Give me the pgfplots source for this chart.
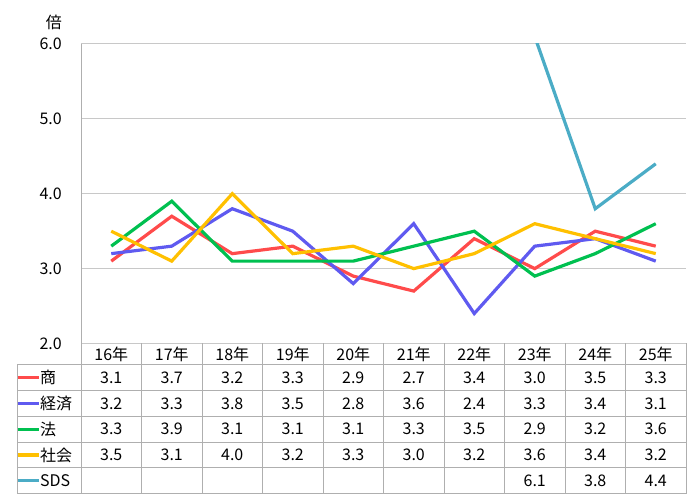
\documentclass[border=0pt]{standalone}
\usepackage{fontspec}
\setmainfont{Noto Sans CJK JP}
\usepackage{pgfplots}
\usepackage{pgfplotstable}
\pgfplotsset{compat=1.18}
\definecolor{cshou}{RGB}{255,75,75}
\definecolor{ckei}{RGB}{95,90,240}
\definecolor{chou}{RGB}{0,192,80}
\definecolor{csha}{RGB}{255,192,0}
\definecolor{csds}{RGB}{75,172,198}
\definecolor{gridc}{RGB}{200,200,200}
\definecolor{tabc}{RGB}{175,175,175}

\pgfplotstableread{
x shou keizai hou shakai sds
0 3.1 3.2 3.3 3.5 nan
1 3.7 3.3 3.9 3.1 nan
2 3.2 3.8 3.1 4.0 nan
3 3.3 3.5 3.1 3.2 nan
4 2.9 2.8 3.1 3.3 nan
5 2.7 3.6 3.3 3.0 nan
6 3.4 2.4 3.5 3.2 nan
7 3.0 3.3 2.9 3.6 6.1
8 3.5 3.4 3.2 3.4 3.8
9 3.3 3.1 3.6 3.2 4.4
}\datatbl

\def\nanstr{nan}
\newcommand\fs{\fontsize{16}{19}\selectfont}

\begin{document}
\begin{tikzpicture}[x=1pt,y=1pt]
\useasboundingbox (0,0) rectangle (690,503);
\begin{axis}[
  at={(81pt,159.5pt)}, anchor=south west,
  width=605pt, height=299.5pt, scale only axis,
  xmin=-0.5, xmax=9.5, ymin=2, ymax=6,
  xtick=\empty, ytick={2,3,4,5,6},
  ymajorgrids, grid style={gridc, line width=1pt},
  axis line style={draw=none},
  major tick length=0pt,
  yticklabel={\pgfmathprintnumber[fixed,zerofill,precision=1,assume math mode=true]{\tick}},
  yticklabel style={anchor=east, inner sep=0pt, xshift=-19pt, font=\fs},
  clip=true,
]
\addplot[cshou, line width=3.2pt] table[x=x, y=shou] {\datatbl};
\addplot[ckei, line width=3.2pt] table[x=x, y=keizai] {\datatbl};
\addplot[chou, line width=3.2pt] table[x=x, y=hou] {\datatbl};
\addplot[csha, line width=3.2pt] table[x=x, y=shakai] {\datatbl};
\addplot[csds, line width=3.2pt, unbounded coords=jump] table[x=x, y=sds] {\datatbl};
\end{axis}
% unit label
\node[anchor=east, inner sep=0pt, font=\fs] at (62,480.5) {倍};
% table grid
\begin{scope}[tabc, line width=1pt]
\draw (81,459) -- (81,9.5);
\draw (17,138) -- (17,9.5);
\foreach \yy in {138,112.3,86.6,60.9,35.2,9.5} \draw (17,\yy) -- (686,\yy);
\foreach \k in {1,...,10} \draw ({81+60.5*\k},159.5) -- ({81+60.5*\k},9.5);
\end{scope}
% header
\foreach \i in {0,...,9} {
  \pgfmathtruncatemacro\yr{\i+16}
  \node[font=\fs, inner sep=0pt] at ({81+60.5*\i+30.25},149) {\yr 年};
}
% row labels with keys
\foreach \col/\lab/\cc [count=\r from 0] in {shou/商/cshou, keizai/経済/ckei, hou/法/chou, shakai/社会/csha, sds/SDS/csds} {
  \pgfmathsetmacro\yc{138-12.85-25.7*\r}
  \draw[\cc, line width=3.2pt] (17.5,\yc) -- (39,\yc);
  \node[anchor=west, inner sep=0pt, font=\fs] at (40,\yc) {\lab};
  \foreach \i in {0,...,9} {
    \pgfplotstablegetelem{\i}{\col}\of\datatbl
    \ifx\pgfplotsretval\nanstr\else
      \node[font=\fs, inner sep=0pt] at ({81+60.5*\i+30.25},\yc) {\pgfplotsretval};
    \fi
  }
}
\end{tikzpicture}
\end{document}
